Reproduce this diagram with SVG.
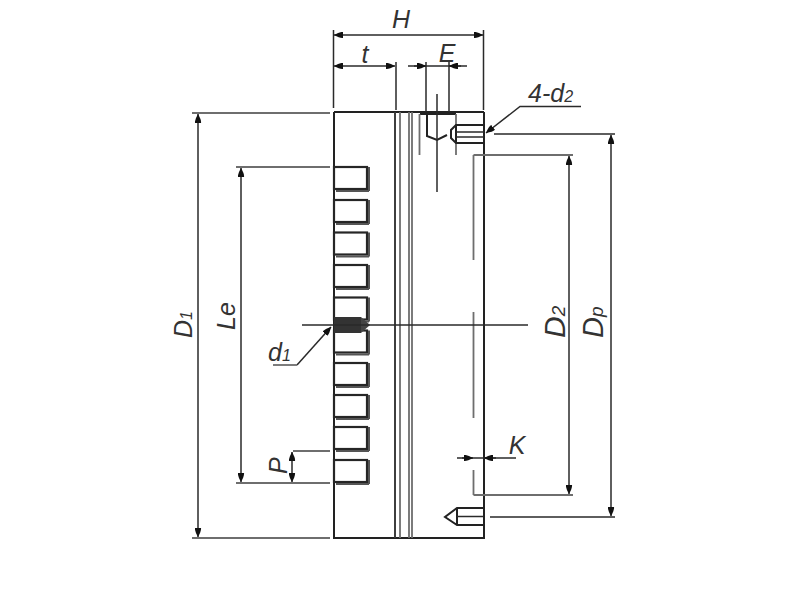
<svg xmlns="http://www.w3.org/2000/svg" width="800" height="600" viewBox="0 0 800 600">
<style>
.l{fill:none;stroke:#2a2a2a;stroke-width:1.5}
.b{fill:none;stroke:#222;stroke-width:2}
.g{fill:none;stroke:#6e6e6e;stroke-width:1.8}
.s{fill:none;stroke:#262626;stroke-width:2.2}
.h{fill:none;stroke:#555;stroke-width:2}
.t{font-family:"Liberation Sans",Arial,sans-serif;font-style:italic;font-size:25px;fill:#333}
.u{font-size:16px}
</style>
<defs>
<marker id="a" viewBox="0 0 9 7" refX="9" refY="3.500" markerWidth="9" markerHeight="7" markerUnits="userSpaceOnUse" orient="auto-start-reverse"><path d="M0 0.500Q3 0 9 3.500Q3 7 0 6.500z" fill="#111"/></marker>
<g id="slot"><rect x="334" y="0" width="33" height="22" class="s"/><path class="h" d="M369 0V24M336 24H369"/></g>
</defs>
<rect width="800" height="600" fill="#fff"/>
<g id="body">
<path class="b" d="M334 112H484M334 112V538H484V112"/>
<path class="g" d="M395 112V538M400 112V538M409 112V538M412 112V538"/>
<path class="l" d="M395 112V538"/>
</g>
<g id="slots">
<use href="#slot" y="167"/><use href="#slot" y="200"/><use href="#slot" y="232.500"/><use href="#slot" y="265"/><use href="#slot" y="297.500"/><use href="#slot" y="330.500"/><use href="#slot" y="363"/><use href="#slot" y="395"/><use href="#slot" y="427"/><use href="#slot" y="460"/>
</g>
<g id="bore-d1">
<rect x="334" y="317" width="27" height="16" fill="#333"/>
<path d="M361 317L370 325L361 333z" fill="#444"/>
</g>
<g id="counterbore">
<path class="b" d="M420 114H456M427 114V136L437 140L447 135"/>
<path class="g" d="M419.500 114V155M456 114V155"/>
<path class="l" d="M437 94V192"/>
</g>
<g id="screw-top">
<path class="b" d="M484 125H456L451 130V138L456 143H484M456 125V143"/>
<path class="l" d="M456 132H484M456 137H484"/>
</g>
<g id="screw-bottom">
<path class="b" d="M483 508H457L445 517L457 525H483M457 508V525"/>
<path class="l" d="M457 516.500H483"/>
</g>
<g id="inner-bore">
<path class="g" d="M473.500 155V260M473.500 312V418M473.500 470V495"/>
</g>
<g id="connectors">
<path class="l" d="M333.500 30V108M483.500 30V110M396 62V110M426 62V112M449 62V112"/>
<path class="l" marker-start="url(#a)" marker-end="url(#a)" d="M334 35H483"/>
<path class="l" marker-start="url(#a)" marker-end="url(#a)" d="M334 66H395"/>
<path class="l" d="M408 66H467"/>
<path class="l" marker-end="url(#a)" d="M414 66H426"/>
<path class="l" marker-end="url(#a)" d="M461 66H449"/>
<path class="g" d="M192 113H330M236 167H330M293 451H330M236 483H330M192 538H330"/>
<path class="l" marker-start="url(#a)" marker-end="url(#a)" d="M198 114V537"/>
<path class="l" marker-start="url(#a)" marker-end="url(#a)" d="M241 168V482"/>
<path class="l" marker-start="url(#a)" marker-end="url(#a)" d="M292 452V482"/>
<path class="l" d="M302 325H528"/>
<path class="l" marker-end="url(#a)" d="M297 365L331 327"/>
<path class="g" d="M273 365H297"/>
<path class="l" marker-end="url(#a)" d="M581 106.500H520L486 133"/>
<path class="l" d="M494 134H615M490 517H615"/>
<path class="l" marker-start="url(#a)" marker-end="url(#a)" d="M611 135V516"/>
<path class="g" d="M473.500 155H573M473.500 495H573"/>
<path class="l" marker-start="url(#a)" marker-end="url(#a)" d="M569 156V494"/>
<path class="l" d="M457 458H516"/>
<path class="l" marker-end="url(#a)" d="M462 458H473"/>
<path class="l" marker-end="url(#a)" d="M496 458H484"/>
</g>
<g id="labels">
<text class="t" x="401" y="28" text-anchor="middle">H</text>
<text class="t" x="365" y="63" text-anchor="middle">t</text>
<text class="t" x="447" y="62" text-anchor="middle">E</text>
<text class="t" x="528" y="102">4-d<tspan class="u">2</tspan></text>
<text class="t" x="517" y="454" text-anchor="middle">K</text>
<text class="t" x="268" y="361">d<tspan class="u">1</tspan></text>
<text class="t" transform="translate(192 338) rotate(-90)">D<tspan class="u">1</tspan></text>
<text class="t" font-size="26" transform="translate(235 330) rotate(-90)">Le</text>
<text class="t" transform="translate(287 474) rotate(-90)">P</text>
<text class="t" style="font-size:30px" transform="translate(565 338) rotate(-90)">D<tspan style="font-size:19px">2</tspan></text>
<text class="t" style="font-size:29px" transform="translate(603 338) rotate(-90)">D<tspan style="font-size:19px">p</tspan></text>
</g>
</svg>
